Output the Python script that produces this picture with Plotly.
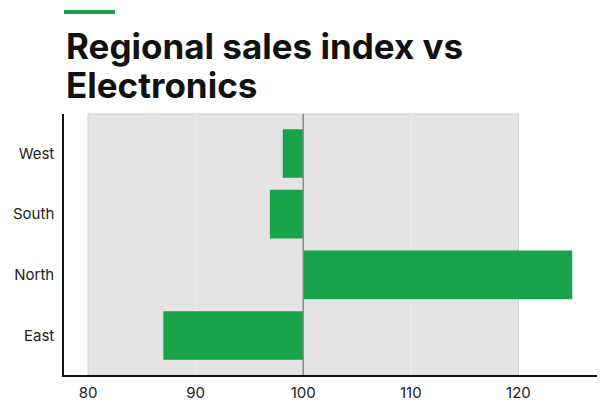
import plotly.graph_objects as go

regions = ["East", "North", "South", "West"]
index_values = [87.0, 125.0, 96.9, 98.1]
baseline = 100
band_range = [80, 120]
tick_values = [80, 90, 100, 110, 120]
title_lines = ["Regional sales index vs", "Electronics"]

GREEN = "#19a34b"
FONT = "Inter"
PLOT_TOP, PLOT_BOTTOM = 114, 375


def py(px):
    return (PLOT_BOTTOM - px) / (PLOT_BOTTOM - PLOT_TOP)


fig = go.Figure()
fig.add_trace(go.Bar(
    y=regions,
    x=[v - baseline for v in index_values],
    base=baseline,
    orientation="h",
    marker=dict(color=GREEN, line=dict(width=0)),
    width=0.8,
    hoverinfo="skip",
))

shapes = [
    dict(type="rect", xref="x", yref="paper", x0=band_range[0], x1=band_range[1], y0=0, y1=1,
         fillcolor="#e4e4e4", line=dict(color="#d2d2d2", width=1), layer="below"),
]
for t in tick_values:
    if band_range[0] < t < band_range[1] and t != baseline:
        shapes.append(dict(type="line", xref="x", yref="paper", x0=t, x1=t, y0=0, y1=1,
                           line=dict(color="#ececec", width=1), layer="below"))
shapes.append(dict(type="line", xref="x", yref="paper", x0=baseline, x1=baseline, y0=0, y1=1,
                   line=dict(color="#8a8a8a", width=1.5), layer="above"))
shapes.append(dict(type="line", xref="paper", yref="paper", x0=0, x1=51 / 533,
                   y0=py(12), y1=py(12), line=dict(color=GREEN, width=4)))

annotations = []
for line, ypx in zip(title_lines, [46, 85]):
    annotations.append(dict(text=line, xref="paper", yref="paper", x=0, y=py(ypx),
                            xanchor="left", yanchor="middle", showarrow=False,
                            font=dict(family=FONT, size=35, color="#111111", weight=700)))

fig.update_layout(
    width=608, height=411,
    margin=dict(l=64, r=11, t=114, b=36),
    paper_bgcolor="white", plot_bgcolor="white",
    showlegend=False,
    shapes=shapes,
    annotations=annotations,
    font=dict(family=FONT, size=15, color="#222222"),
    xaxis=dict(range=[77.77, 127.3], tickvals=tick_values, showgrid=False, zeroline=False,
               showline=True, linecolor="#111111", linewidth=1.5, ticks="outside", ticklen=3,
               tickcolor="rgba(0,0,0,0)", automargin=False,
               tickfont=dict(size=15, color="#222222")),
    yaxis=dict(range=[-0.65, 3.65], categoryorder="array", categoryarray=regions,
               showgrid=False, zeroline=False, showline=True, linecolor="#111111",
               linewidth=1.5, ticks="outside", ticklen=5, tickcolor="rgba(0,0,0,0)",
               automargin=False,
               tickfont=dict(size=15, color="#222222")),
)

fig.write_html("out.html")
